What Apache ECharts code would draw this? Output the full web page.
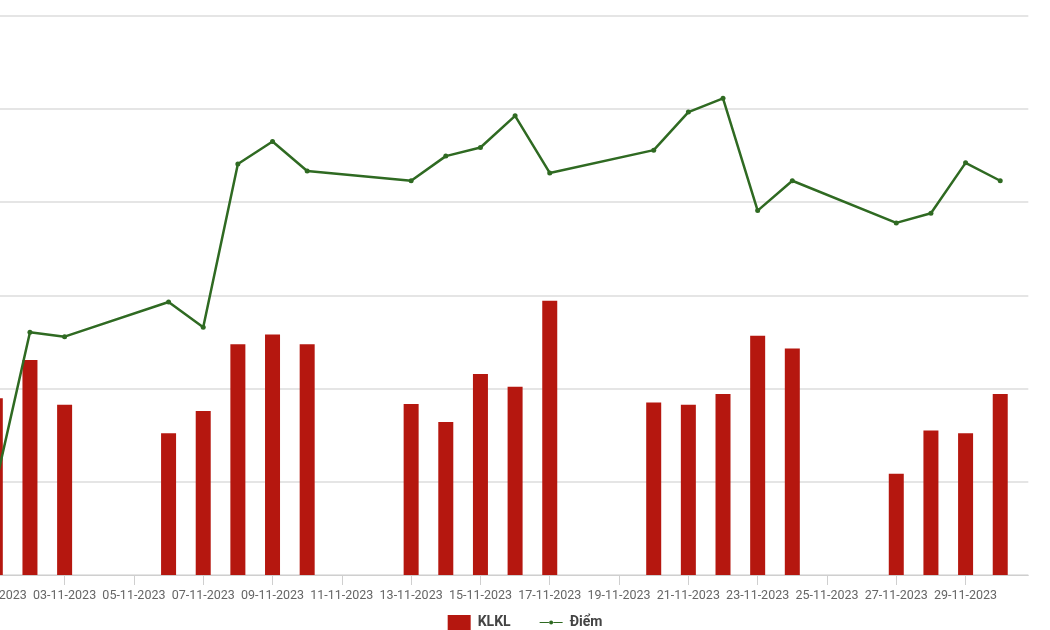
<!DOCTYPE html>
<html>
<head>
<meta charset="utf-8">
<script src="https://cdn.jsdelivr.net/npm/echarts@6/dist/echarts.min.js"></script>
<style>
html,body{margin:0;padding:0;background:#fff;overflow:hidden;width:1050px;height:630px;position:relative;}
#chart{position:absolute;left:-74px;top:0;width:1198px;height:630px;}
</style>
</head>
<body>
<div id="chart"></div>
<script>
// Trading dates (November 2023)
const dates = ['01-11-2023','02-11-2023','03-11-2023','06-11-2023','07-11-2023','08-11-2023','09-11-2023','10-11-2023',
  '13-11-2023','14-11-2023','15-11-2023','16-11-2023','17-11-2023','20-11-2023','21-11-2023','22-11-2023',
  '23-11-2023','24-11-2023','27-11-2023','28-11-2023','29-11-2023','30-11-2023'];
// KLKL (matched volume, million shares)
const klkl = [379, 461, 365, 304, 352, 495, 516, 495,
  367, 328, 431, 404, 588, 370, 365, 388,
  513, 486, 217, 310, 304, 388];
// Điểm (index points)
const diem = [1023.9, 1065.1, 1063.9, 1073.2, 1066.4, 1110.2, 1116.2, 1108.3,
  1105.7, 1112.3, 1114.6, 1123.1, 1107.8, 1113.9, 1124.1, 1127.8,
  1097.7, 1105.7, 1094.4, 1097.0, 1110.5, 1105.7];
const seriesNames = ['KLKL', 'Điểm'];

const dayIndex = d => parseInt(d.slice(0, 2), 10) - 1;
const pad = n => (n < 10 ? '0' : '') + n;
const FONT = "Roboto, 'Liberation Sans', sans-serif";
const LINE_ICON = 'path://M0,6.9L9.3,6.9L9.3,8.1L0,8.1Z M13.7,6.9L23,6.9L23,8.1L13.7,8.1Z M11.5,5.5A2,2 0 1,1 11.5,9.5A2,2 0 1,1 11.5,5.5Z';

const chart = echarts.init(document.getElementById('chart'), null, {renderer: 'canvas'});
chart.setOption({
  animation: false,
  backgroundColor: '#ffffff',
  grid: {left: 0, right: 95.7, top: 15.5, bottom: 55, containLabel: false},
  legend: {
    data: [
      {name: seriesNames[0], icon: 'rect'},
      {name: seriesNames[1], icon: LINE_ICON}
    ],
    left: 'center', top: 610,
    itemWidth: 23, itemHeight: 15, itemGap: 29,
    textStyle: {fontFamily: FONT, fontSize: 14, fontWeight: 'bold', color: '#444', padding: [0, 0, 0, 2]}
  },
  xAxis: {
    type: 'value', min: -2, max: 29.81, interval: 2,
    splitLine: {show: false},
    axisLine: {show: true, lineStyle: {color: '#cfcfcf', width: 1}},
    axisTick: {show: true, length: 10, lineStyle: {color: '#cfcfcf'}},
    axisLabel: {
      show: true, margin: 14, showMaxLabel: false, showMinLabel: false,
      fontFamily: FONT, fontSize: 12.5, color: '#666',
      formatter: v => (Number.isInteger(v) && v >= 0) ? pad(v + 1) + '-11-2023' : ''
    }
  },
  yAxis: [
    {
      type: 'value', min: 0, max: 1200, interval: 200, position: 'left',
      axisLine: {show: false}, axisTick: {show: false}, axisLabel: {show: false},
      splitLine: {show: true, lineStyle: {color: '#dcdcdc', width: 1.5}}
    },
    {
      type: 'value', min: 1000, max: 1150, interval: 25, position: 'right',
      axisLine: {show: false}, axisTick: {show: false}, axisLabel: {show: false},
      splitLine: {show: false}
    }
  ],
  series: [
    {
      name: seriesNames[0], type: 'bar', yAxisIndex: 0, barWidth: 15,
      itemStyle: {color: '#b5170f'},
      data: dates.map((d, i) => [dayIndex(d), klkl[i]])
    },
    {
      name: seriesNames[1], type: 'line', yAxisIndex: 1,
      symbol: 'circle', symbolSize: 5, showSymbol: true,
      lineStyle: {color: '#2f6a22', width: 2.5},
      itemStyle: {color: '#2f6a22'},
      data: dates.map((d, i) => [dayIndex(d), diem[i]])
    }
  ]
});
</script>
</body>
</html>
